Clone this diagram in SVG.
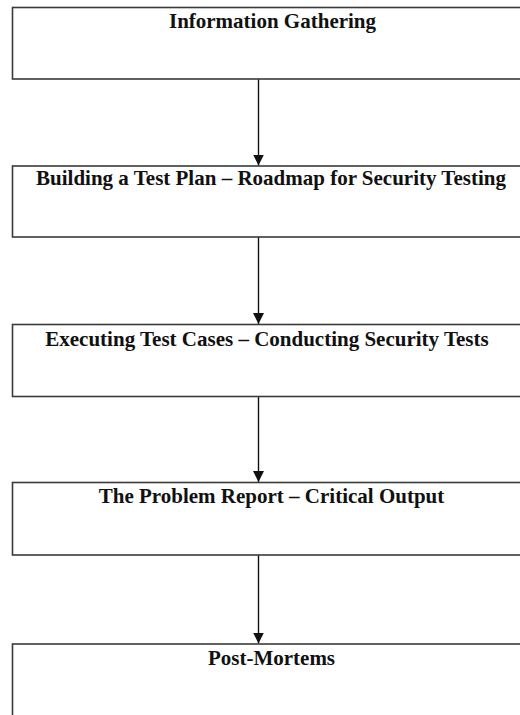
<svg xmlns="http://www.w3.org/2000/svg" width="520" height="715" viewBox="0 0 520 715">
<style>
.box{fill:#fff;stroke:#3a3a3a;stroke-width:1.6}
.lbl{font-family:"Liberation Serif","Times New Roman",serif;font-weight:bold;font-size:21px;fill:#111;text-anchor:middle}
.con{stroke:#111;stroke-width:1.4;fill:none}
</style>
<defs>
<marker id="ah" markerUnits="userSpaceOnUse" markerWidth="12" markerHeight="12" viewBox="0 0 12 12" refX="11" refY="6" orient="auto">
<path d="M0,0.5 L11,6 L0,11.5 Z" fill="#111"/>
</marker>
</defs>
<rect width="520" height="715" fill="#fff"/>
<g id="connectors">
<line class="con" x1="258.5" y1="79" x2="258.5" y2="165.5" marker-end="url(#ah)"/>
<line class="con" x1="258.5" y1="237" x2="258.5" y2="324" marker-end="url(#ah)"/>
<line class="con" x1="258.5" y1="396.5" x2="258.5" y2="482" marker-end="url(#ah)"/>
<line class="con" x1="258.5" y1="555" x2="258.5" y2="643.5" marker-end="url(#ah)"/>
</g>
<g id="n1">
<rect class="box" x="12.5" y="7.5" width="530" height="71.5"/>
<text class="lbl" x="272.5" y="27.5">Information Gathering</text>
</g>
<g id="n2">
<rect class="box" x="12.5" y="166" width="530" height="71"/>
<text class="lbl" x="271" y="184.5">Building a Test Plan – Roadmap for Security Testing</text>
</g>
<g id="n3">
<rect class="box" x="12.5" y="324.5" width="530" height="72"/>
<text class="lbl" x="267" y="345.5">Executing Test Cases – Conducting Security Tests</text>
</g>
<g id="n4">
<rect class="box" x="12.5" y="482.5" width="530" height="72.5"/>
<text class="lbl" x="271.5" y="502.5">The Problem Report – Critical Output</text>
</g>
<g id="n5">
<rect class="box" x="12.5" y="644" width="530" height="100"/>
<text class="lbl" x="271.5" y="664.5">Post-Mortems</text>
</g>
</svg>
